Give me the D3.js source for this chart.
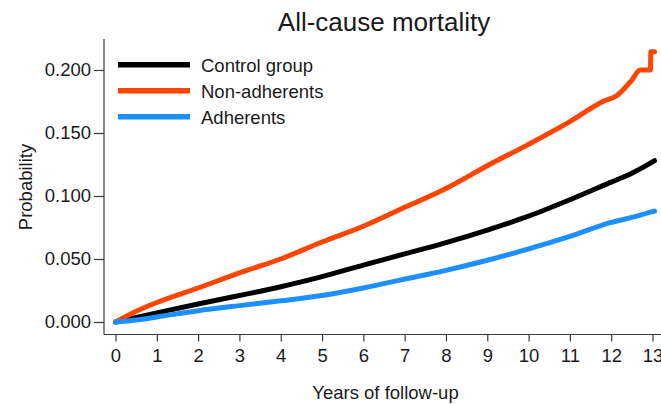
<!DOCTYPE html>
<html>
<head>
<meta charset="utf-8">
<script src="https://cdn.jsdelivr.net/npm/d3@7"></script>
<style>
  html, body { margin: 0; padding: 0; background: #fff; }
  svg { display: block; }
  text { font-family: "Liberation Sans", Arial, sans-serif; fill: #1a1a1a; }
</style>
</head>
<body>
<svg id="chart" width="661" height="404"></svg>
<script>
// ---- Data ----
const title = "All-cause mortality";
const xLabel = "Years of follow-up";
const yLabel = "Probability";
const seriesNames = ["Control group", "Non-adherents", "Adherents"];
const seriesColors = ["#000000", "#ff4500", "#1e8fff"];

const controlYears = [0, 0.5, 1, 2, 3, 4, 5, 6, 7, 8, 9, 10, 11, 12, 12.5, 13, 13.05];
const controlValues = [0.000, 0.0036, 0.0072, 0.0143, 0.021, 0.028, 0.036, 0.0452, 0.054, 0.063, 0.073, 0.084, 0.097, 0.111, 0.118, 0.127, 0.128];

const nonAdhYears = [0, 0.5, 1, 2, 3, 4, 5, 6, 7, 8, 9, 10, 11, 11.8, 12.15, 12.5, 12.7, 12.95, 12.96, 13.05];
const nonAdhValues = [0.000, 0.0085, 0.0155, 0.027, 0.039, 0.050, 0.0635, 0.076, 0.091, 0.106, 0.124, 0.141, 0.159, 0.175, 0.180, 0.192, 0.200, 0.200, 0.2145, 0.2145];

const adhYears = [0, 0.5, 1, 2, 3, 4, 5, 6, 7, 8, 9, 10, 11, 12, 12.5, 13, 13.05];
const adhValues = [0.000, 0.0016, 0.004, 0.009, 0.013, 0.0168, 0.021, 0.027, 0.034, 0.041, 0.049, 0.058, 0.068, 0.079, 0.083, 0.0876, 0.088];

const xTicks = [0, 1, 2, 3, 4, 5, 6, 7, 8, 9, 10, 11, 12, 13];
const yTicks = [0, 0.05, 0.10, 0.15, 0.20];

// ---- Layout ----
const svg = d3.select("#chart");
const x = d3.scaleLinear().domain([0, 13]).range([115.5, 652.5]);
const y = d3.scaleLinear().domain([0, 0.2]).range([322, 70]);
const axisLeftX = 104, axisBottomY = 334.5, plotTop = 39, plotRight = 661;

// Axes lines (L-shaped box)
svg.append("line").attr("x1", axisLeftX).attr("x2", axisLeftX)
  .attr("y1", plotTop).attr("y2", axisBottomY)
  .attr("stroke", "#3a3a3a").attr("stroke-width", 1.2);
svg.append("line").attr("x1", axisLeftX).attr("x2", plotRight)
  .attr("y1", axisBottomY).attr("y2", axisBottomY)
  .attr("stroke", "#3a3a3a").attr("stroke-width", 1.2);

// Y axis
const yAxis = d3.axisLeft(y).tickValues(yTicks).tickFormat(d3.format(".3f"))
  .tickSize(10).tickPadding(3);
const gy = svg.append("g").attr("transform", `translate(${axisLeftX},0)`).call(yAxis);
gy.select(".domain").remove();
gy.selectAll(".tick line").attr("stroke", "#3a3a3a").attr("stroke-width", 1.2);
gy.selectAll(".tick text").attr("font-size", "18.5px")
  .attr("font-family", "Liberation Sans, Arial, sans-serif").attr("fill", "#1a1a1a");

// X axis
const xAxis = d3.axisBottom(x).tickValues(xTicks).tickFormat(d3.format("d"))
  .tickSize(7).tickPadding(7);
const gx = svg.append("g").attr("transform", `translate(0,${axisBottomY})`).call(xAxis);
gx.select(".domain").remove();
gx.selectAll(".tick line").attr("stroke", "#3a3a3a").attr("stroke-width", 1.2);
gx.selectAll(".tick text").attr("font-size", "18.5px")
  .attr("font-family", "Liberation Sans, Arial, sans-serif").attr("fill", "#1a1a1a");

// Titles
svg.append("text").attr("x", 384).attr("y", 31).attr("text-anchor", "middle")
  .attr("font-size", "26px").text(title);
svg.append("text").attr("x", 385.5).attr("y", 398.5).attr("text-anchor", "middle")
  .attr("font-size", "18.5px").text(xLabel);
svg.append("text").attr("transform", "translate(32,187) rotate(-90)")
  .attr("text-anchor", "middle").attr("font-size", "18.5px").text(yLabel);

// Curves
const series = [
  { name: seriesNames[0], color: seriesColors[0], xs: controlYears, ys: controlValues },
  { name: seriesNames[1], color: seriesColors[1], xs: nonAdhYears, ys: nonAdhValues },
  { name: seriesNames[2], color: seriesColors[2], xs: adhYears, ys: adhValues }
];
const line = d3.line().x(d => x(d[0])).y(d => y(d[1])).curve(d3.curveMonotoneX);
series.forEach(s => {
  const pts = s.xs.map((v, i) => [v, s.ys[i]]);
  svg.append("path").datum(pts).attr("d", line)
    .attr("fill", "none").attr("stroke", s.color)
    .attr("stroke-width", 5).attr("stroke-linejoin", "round").attr("stroke-linecap", "round");
});

// Legend
const legend = svg.append("g");
series.forEach((s, i) => {
  const cy = 64.8 + i * 26;
  legend.append("line").attr("x1", 118).attr("x2", 190).attr("y1", cy).attr("y2", cy)
    .attr("stroke", s.color).attr("stroke-width", 5.5);
  legend.append("text").attr("x", 201).attr("y", cy + 7).attr("font-size", "18.5px").text(s.name);
});
</script>
</body>
</html>
